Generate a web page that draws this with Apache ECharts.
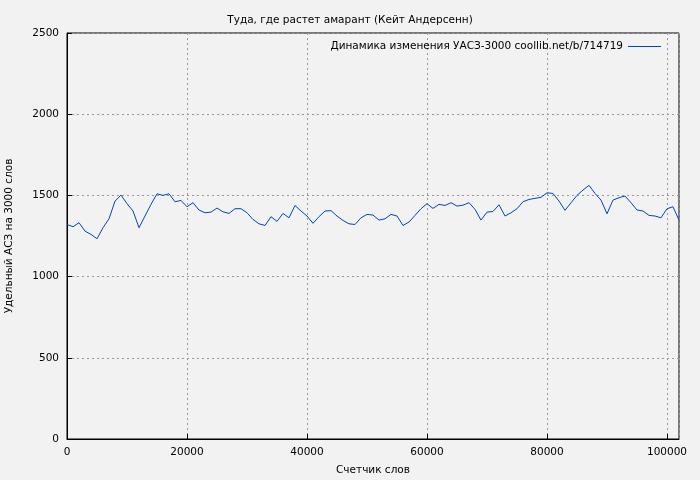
<!DOCTYPE html>
<html><head><meta charset="utf-8">
<script src="https://cdn.jsdelivr.net/npm/echarts@6/dist/echarts.min.js"></script>
<style>html,body{margin:0;background:#f2f2f2}#c{width:700px;height:480px}</style>
</head><body><div id="c"></div>
<script>
var words = [];
var uaso = [1321,1307,1332,1280,1260,1233,1301,1356,1465,1502,1449,1404,1301,1373,1445,1510,1500,1510,1461,1469,
  1430,1455,1410,1393,1397,1422,1399,1389,1418,1418,1393,1352,1325,1315,1369,1340,1389,1362,1438,1404,
  1373,1328,1369,1404,1406,1373,1346,1325,1321,1362,1383,1379,1348,1356,1383,1373,1315,1336,1377,1418,
  1449,1420,1445,1438,1455,1434,1440,1455,1414,1348,1397,1401,1442,1373,1393,1418,1461,1475,1482,1488,
  1516,1512,1465,1408,1455,1500,1533,1562,1512,1471,1387,1471,1486,1496,1455,1410,1404,1377,1373,1362,
  1418,1430,1348];
for (var i = 0; i < uaso.length; i++) words.push(i * 1000);
var seriesName = 'Динамика изменения УАСЗ-3000 coollib.net/b/714719';

var chart = echarts.init(document.getElementById('c'));
var axisText = {color: '#000', fontSize: 10.5, fontFamily: 'DejaVu Sans'};
chart.setOption({
    backgroundColor: '#f2f2f2',
    animation: false,
    title: {
        text: 'Туда, где растет амарант (Кейт Андерсенн)',
        left: 'center', top: 10,
        textStyle: {fontSize: 10.5, fontWeight: 'normal', color: '#000', fontFamily: 'DejaVu Sans'}
    },
    legend: {
        right: 34, top: 36, itemWidth: 33, itemHeight: 1, itemGap: 8,
        icon: 'rect', align: 'right',
        textStyle: {fontSize: 10.5, color: '#000', fontFamily: 'DejaVu Sans'},
        data: [seriesName]
    },
    grid: {left: 67, right: 21, top: 33, bottom: 41, outerBoundsMode: 'none', containLabel: false,
        show: true, borderColor: '#000', borderWidth: 1, backgroundColor: 'transparent'},
    xAxis: {
        type: 'value', min: 0, max: 102000, interval: 20000,
        name: 'Счетчик слов', nameLocation: 'middle', nameGap: 26,
        nameTextStyle: axisText,
        axisLine: {lineStyle: {color: '#000'}},
        axisTick: {inside: true, lineStyle: {color: '#000'}},
        axisLabel: {color: '#000', fontSize: 10.5, fontFamily: 'DejaVu Sans', formatter: function (v) { return String(v); }},
        splitLine: {lineStyle: {color: '#999', type: [2, 3]}}
    },
    yAxis: {
        type: 'value', min: 0, max: 2500, interval: 500,
        name: 'Удельный АСЗ на 3000 слов', nameLocation: 'middle', nameGap: 52,
        nameTextStyle: axisText,
        axisLine: {show: true, lineStyle: {color: '#000'}},
        axisTick: {show: true, inside: true, lineStyle: {color: '#000'}},
        axisLabel: {color: '#000', fontSize: 10.5, fontFamily: 'DejaVu Sans', formatter: function (v) { return String(v); }},
        splitLine: {lineStyle: {color: '#999', type: [2, 3]}}
    },
    series: [{
        name: seriesName, type: 'line', showSymbol: false,
        data: words.map(function (w, i) { return [w, uaso[i]]; }),
        lineStyle: {color: '#0047b3', width: 1},
        itemStyle: {color: '#0047b3'}
    }]
});
</script></body></html>
